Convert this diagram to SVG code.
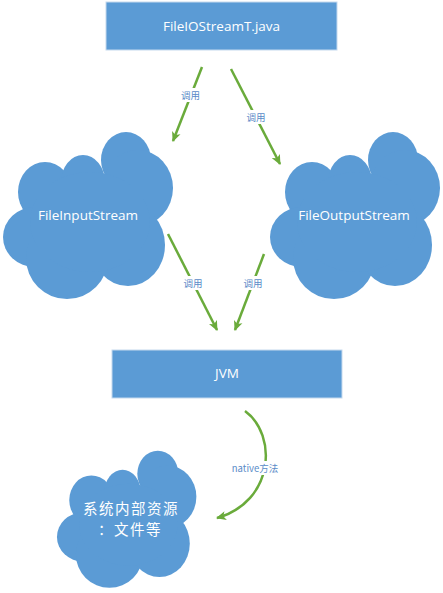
<svg xmlns="http://www.w3.org/2000/svg" xmlns:xlink="http://www.w3.org/1999/xlink" width="443" height="593" viewBox="0 0 443 593">
<style>
.box{fill:#5B9BD5;stroke:#c5d9ee;stroke-width:1}
.cloud{fill:#5B9BD5}
.nt{fill:#ffffff;font-family:"Open Sans","Noto Sans CJK SC",sans-serif;font-size:13.5px;text-anchor:middle}
.ct{fill:#ffffff;font-family:"Noto Sans CJK SC","Noto Sans",sans-serif;font-size:14.5px;letter-spacing:1.5px;text-anchor:middle}
.conn{fill:none;stroke:#6AAB3B;stroke-width:2.5;marker-end:url(#ah)}
.lbl{fill:#5A8BC8;font-family:"Noto Sans CJK SC","Open Sans",sans-serif;font-size:9.5px;text-anchor:middle}
.lbg{fill:#ffffff}
</style>
<defs>
<marker id="ah" viewBox="0 0 10 10" refX="9" refY="5" markerWidth="4" markerHeight="4" orient="auto" markerUnits="strokeWidth">
<path d="M0,0.5 L10,5 L0,9.5 L2.5,5 z" fill="#6AAB3B"/>
</marker>
<g id="cloudShape" class="cloud">
<ellipse cx="45" cy="192" rx="27" ry="30"/>
<ellipse cx="83" cy="182" rx="22" ry="27"/>
<ellipse cx="126" cy="160" rx="25" ry="28"/>
<ellipse cx="138" cy="188" rx="35" ry="38"/>
<ellipse cx="35" cy="237" rx="32" ry="30"/>
<circle cx="67" cy="258" r="41"/>
<ellipse cx="128" cy="245" rx="37" ry="41"/>
<ellipse cx="90" cy="222" rx="60" ry="50"/>
</g>
</defs>
<g id="connectors">
<line class="conn" x1="202" y1="67" x2="173" y2="141"/>
<line class="conn" x1="231" y1="69" x2="280" y2="164"/>
<line class="conn" x1="168" y1="234" x2="217" y2="330"/>
<line class="conn" x1="264" y1="254" x2="235" y2="330"/>
<path class="conn" d="M245,411 C278,435 274,502 217,518"/>
<rect class="lbg" x="180" y="88" width="21" height="14"/>
<text class="lbl" x="190.5" y="99">调用</text>
<rect class="lbg" x="245" y="110" width="22" height="14"/>
<text class="lbl" x="256" y="121">调用</text>
<rect class="lbg" x="182" y="276" width="22" height="14"/>
<text class="lbl" x="193" y="287">调用</text>
<rect class="lbg" x="242" y="276" width="22" height="14"/>
<text class="lbl" x="253" y="287">调用</text>
<rect class="lbg" x="231" y="461" width="48" height="14"/>
<text class="lbl" x="255" y="472">native方法</text>
</g>
<g id="node-main">
<rect class="box" x="106" y="2" width="231" height="48"/>
<text class="nt" x="221.5" y="31">FileIOStreamT.java</text>
</g>
<g id="node-fis">
<use xlink:href="#cloudShape" href="#cloudShape"/>
<text class="nt" x="88" y="220">FileInputStream</text>
</g>
<g id="node-fos">
<use xlink:href="#cloudShape" href="#cloudShape" transform="translate(267,0)"/>
<text class="nt" x="354" y="220">FileOutputStream</text>
</g>
<g id="node-jvm">
<rect class="box" x="112" y="350" width="230" height="48"/>
<text class="nt" x="227" y="378">JVM</text>
</g>
<g id="node-sys">
<use xlink:href="#cloudShape" href="#cloudShape" transform="translate(54.5,342.6) scale(0.82)"/>
<text class="ct" x="131" y="514">系统内部资源</text>
<text class="ct" x="130" y="535">：文件等</text>
</g>
</svg>
